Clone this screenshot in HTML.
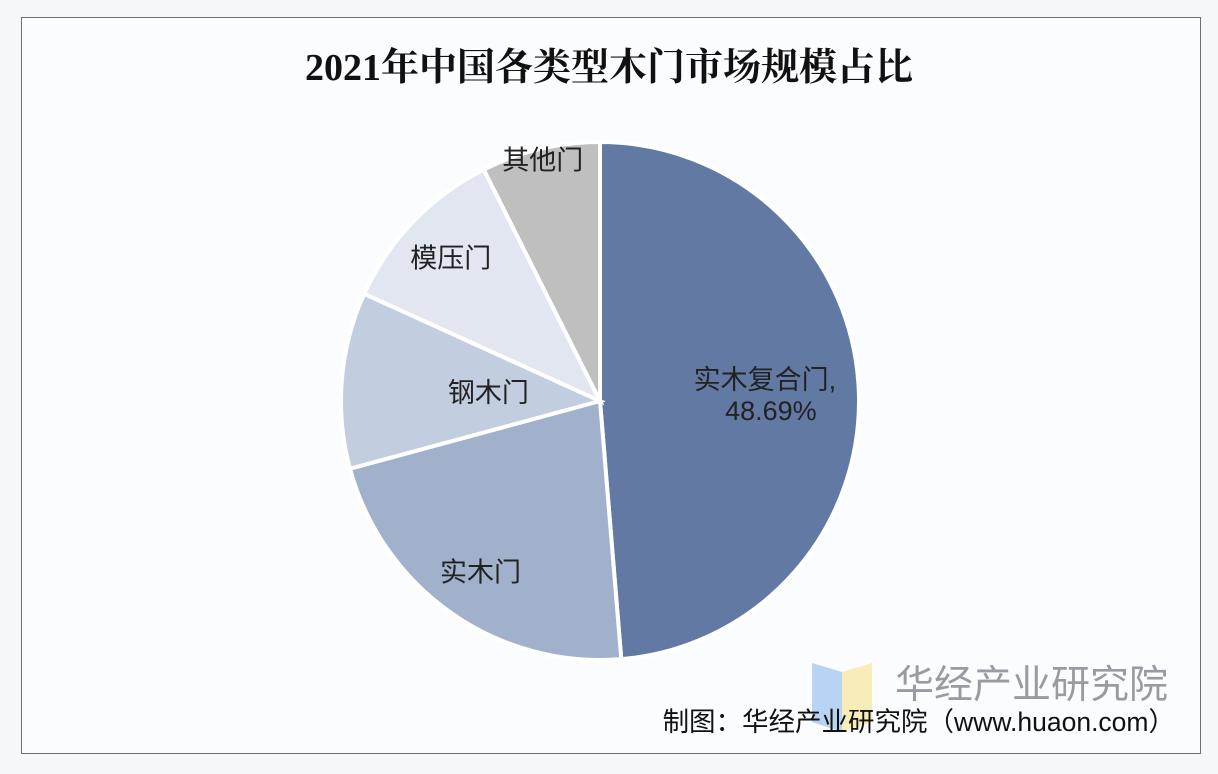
<!DOCTYPE html>
<html><head><meta charset="utf-8"><style>
body{margin:0;width:1218px;height:774px;background:#f6f7f9;overflow:hidden;font-family:"Liberation Sans","Noto Sans CJK SC",sans-serif}
#frame{position:absolute;left:21px;top:17px;width:1178px;height:735px;border:1.5px solid #6a6f7a;background:#fbfcfe}
</style></head><body>
<div id="frame"></div>
<svg width="1218" height="774" style="position:absolute;left:0;top:0">
<text x="609" y="80" text-anchor="middle" font-family="'Liberation Serif','Noto Serif CJK SC',serif" font-weight="bold" font-size="38" fill="#111">2021年中国各类型木门市场规模占比</text>
<g id="slices"></g>
<g id="labels"></g>
<g>
<polygon points="812,663 842,672 842,732 812,722" fill="#a9c8ef" opacity="0.8"/>
<polygon points="842,672 872,663 872,722 842,732" fill="#f7e7a6" opacity="0.8"/>
<text x="895" y="698" font-size="39" fill="#8a8a92" opacity="0.85">华经产业研究院</text>
</g>
<text x="1175" y="731" text-anchor="end" font-size="26.5" fill="#111">制图：华经产业研究院（www.huaon.com）</text>
</svg>
<script>
const categories=["实木复合门","实木门","钢木门","模压门","其他门"];
const values=[48.69,22.1,11.0,10.8,7.41];
const colors=["#6279a3","#a2b1cb","#c2cde0","#e1e6f0","#bfbfbf"];
const labelR=[165,208,112,207,248];
const cx=600,cy=401,r=259;
const total=values.reduce((a,b)=>a+b,0);
const pt=(a,rr)=>[cx+rr*Math.sin(a),cy-rr*Math.cos(a)];
const gS=document.getElementById('slices'),gL=document.getElementById('labels');
const ns='http://www.w3.org/2000/svg';
let acc=0;
values.forEach((v,i)=>{
  const a0=acc/total*2*Math.PI;acc+=v;const a1=acc/total*2*Math.PI;
  const p0=pt(a0,r),p1=pt(a1,r);
  const p=document.createElementNS(ns,'path');
  p.setAttribute('d',`M${cx},${cy}L${p0[0]},${p0[1]}A${r},${r} 0 ${a1-a0>Math.PI?1:0} 1 ${p1[0]},${p1[1]}Z`);
  p.setAttribute('fill',colors[i]);p.setAttribute('stroke','#fff');p.setAttribute('stroke-width','4');
  
  
  gS.appendChild(p);
  const am=(a0+a1)/2;const lp=pt(am,labelR[i]);
  const t=document.createElementNS(ns,'text');
  t.setAttribute('x',lp[0]);t.setAttribute('y',lp[1]+10);t.setAttribute('text-anchor','middle');
  t.setAttribute('font-size','27');t.setAttribute('fill','#222');
  
  
  if(i===0){
    t.setAttribute('y',lp[1]-5);
    t.textContent=categories[i]+',';
    const t2=document.createElementNS(ns,'tspan');
    t2.setAttribute('x',lp[0]+6);t2.setAttribute('dy','31');t2.textContent=values[i].toFixed(2)+'%';
    t.appendChild(t2);
  } else t.textContent=categories[i];
  gL.appendChild(t);
});
</script>
</body></html>
